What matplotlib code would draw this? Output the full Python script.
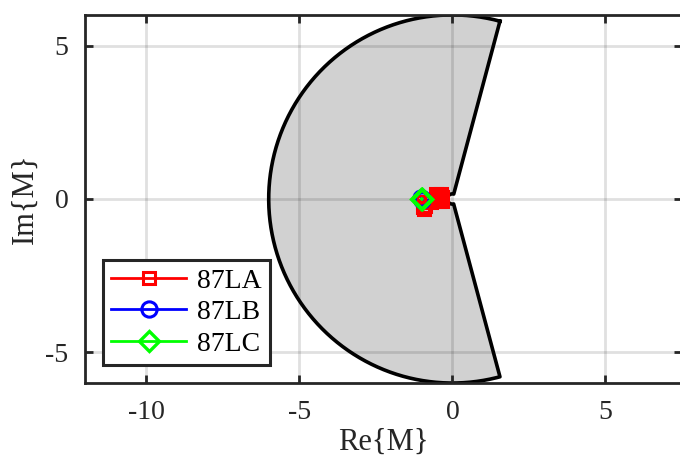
import matplotlib.pyplot as plt
import numpy as np

plt.rcParams['font.family'] = ['Liberation Serif', 'DejaVu Serif']
plt.rcParams['axes.unicode_minus'] = False

# Зона торможения (альфа-плоскость): радиус и угол
R_outer = 6.0
R_inner = 1 / 6
ang_deg = 75.0

# Траектории отношения токов по фазам
re_a = [-0.97, -0.95, -0.92, -0.88, -0.70, -0.55, -0.50, -0.45, -0.40, -0.35, -0.33, -0.42, -0.50, -0.38]
im_a = [-0.10, -0.25, -0.33, -0.22, -0.10, 0.15, 0.10, -0.05, 0.12, -0.06, 0.05, 0.00, 0.00, 0.15]
re_b = [-1.00, -1.02, -0.98, -1.00]
im_b = [0.00, 0.02, -0.02, 0.00]
re_c = [-1.00, -1.01, -0.99, -1.00]
im_c = [0.00, 0.01, -0.01, 0.00]

labels = ['87LA', '87LB', '87LC']

fig = plt.figure(figsize=(6.8, 4.66), dpi=100)
ax = fig.add_axes([0.125, 0.178, 0.878, 0.790])

# Контур области
th_out = np.deg2rad(np.linspace(ang_deg, 360 - ang_deg, 200))
th_in = th_out[::-1]
xs = np.concatenate([R_outer * np.cos(th_out), R_inner * np.cos(th_in), [R_outer * np.cos(th_out[0])]])
ys = np.concatenate([R_outer * np.sin(th_out), R_inner * np.sin(th_in), [R_outer * np.sin(th_out[0])]])
ax.fill(xs, ys, color='#d1d1d1', zorder=1)
ax.plot(xs, ys, color='k', lw=2.6, zorder=2)

ax.plot(re_a, im_a, '-s', color='r', lw=2, ms=9, mew=2.2, mfc='none', label=labels[0], zorder=4)
ax.plot(re_b, im_b, '-o', color='b', lw=2, ms=11, mew=2.2, mfc='none', label=labels[1], zorder=5)
ax.plot(re_c, im_c, '-D', color='#00ff00', lw=2, ms=10, mew=2.4, mfc='none', label=labels[2], zorder=6)

ax.set_xlim(-12, 7.5)
ax.set_ylim(-6, 6)
ax.set_xticks([-10, -5, 0, 5])
ax.set_yticks([-5, 0, 5])
ax.grid(True, color='k', alpha=0.12, lw=2.0, zorder=3)
ax.set_axisbelow(False)
for sp in ax.spines.values():
    sp.set_linewidth(2.0)
    sp.set_color('#262626')
    sp.set_zorder(7)
ax.tick_params(direction='in', length=6, width=2.0, color='#262626', labelcolor='#262626',
               labelsize=20, top=True, right=True, pad=12)
ax.set_xlabel('Re{M}', fontsize=22, color='#262626', labelpad=2)
ax.set_ylabel('Im{M}', fontsize=22, color='#262626', labelpad=4)

leg = ax.legend(loc='lower left', bbox_to_anchor=(0.030, 0.049), borderaxespad=0,
                fontsize=20, handlelength=2.7, handletextpad=0.4, labelspacing=0.22,
                borderpad=0.3, fancybox=False, framealpha=1)
leg.get_frame().set_edgecolor('#262626')
leg.get_frame().set_linewidth(2.2)
leg.set_zorder(8)

plt.savefig('out.png', dpi=100)
